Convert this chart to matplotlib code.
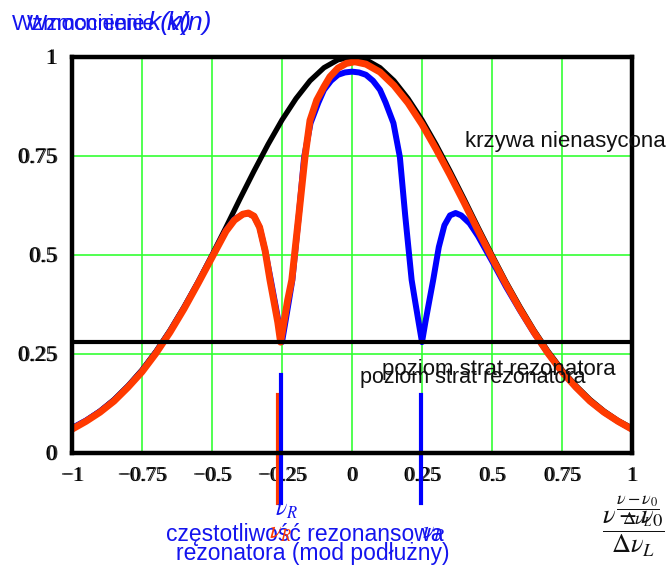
import matplotlib
matplotlib.use("Agg")
import matplotlib.pyplot as plt
import matplotlib.patheffects as pe

plt.rcParams['mathtext.fontset'] = 'stix'

W, H = 672, 567

# normalized detuning (nu - nu0) / delta nu_L
x_black = [-1.0, -0.95, -0.9, -0.85, -0.8, -0.75, -0.7, -0.65, -0.6, -0.55, -0.5,
           -0.45, -0.4, -0.35, -0.3, -0.25, -0.2, -0.15, -0.1, -0.05, 0.0,
           0.05, 0.1, 0.15, 0.2, 0.25, 0.3, 0.35, 0.4, 0.45, 0.5,
           0.55, 0.6, 0.65, 0.7, 0.75, 0.8, 0.85, 0.9, 0.95, 1.0]
y_black = [0.063, 0.082, 0.106, 0.135, 0.170, 0.210, 0.257, 0.310, 0.369, 0.432, 0.500,
           0.570, 0.642, 0.712, 0.779, 0.841, 0.895, 0.940, 0.973, 0.993, 1.000,
           0.993, 0.973, 0.940, 0.895, 0.841, 0.779, 0.712, 0.642, 0.570, 0.500,
           0.432, 0.369, 0.310, 0.257, 0.210, 0.170, 0.135, 0.106, 0.082, 0.063]

# single mode (hole at -nu_R)
x_red = [-1.0, -0.95, -0.9, -0.85, -0.8, -0.75, -0.7, -0.65, -0.6, -0.55, -0.5,
         -0.45, -0.42, -0.39, -0.37, -0.35, -0.33, -0.31, -0.293, -0.278, -0.265, -0.255,
         -0.243, -0.23, -0.215, -0.19, -0.168, -0.15, -0.126, -0.1, -0.079, -0.05, -0.02,
         0.01, 0.05, 0.1, 0.15, 0.2, 0.25, 0.3, 0.35, 0.4, 0.45, 0.5,
         0.55, 0.6, 0.65, 0.7, 0.75, 0.8, 0.85, 0.9, 0.95, 1.0]
y_red = [0.060, 0.080, 0.103, 0.131, 0.166, 0.205, 0.252, 0.305, 0.364, 0.428, 0.494,
         0.560, 0.588, 0.603, 0.606, 0.598, 0.570, 0.510, 0.437, 0.380, 0.330, 0.280,
         0.330, 0.385, 0.437, 0.600, 0.747, 0.840, 0.891, 0.925, 0.950, 0.972, 0.984,
         0.988, 0.982, 0.962, 0.928, 0.884, 0.830, 0.768, 0.702, 0.633, 0.562, 0.493,
         0.426, 0.363, 0.305, 0.252, 0.205, 0.166, 0.131, 0.103, 0.080, 0.060]

# two modes (holes at -nu_R and +nu_R)
x_blue = [-1.0, -0.95, -0.9, -0.85, -0.8, -0.75, -0.7, -0.65, -0.6, -0.55, -0.5,
          -0.45, -0.42, -0.39, -0.37, -0.35, -0.33, -0.31, -0.29, -0.275, -0.262, -0.25,
          -0.238, -0.225, -0.213, -0.19, -0.171, -0.148, -0.12, -0.1, -0.075, -0.05, -0.025,
          0.0, 0.025, 0.05, 0.075, 0.1, 0.12, 0.148, 0.171, 0.19, 0.213, 0.225, 0.238,
          0.25, 0.262, 0.275, 0.29, 0.31, 0.33, 0.35, 0.37, 0.39, 0.42, 0.45, 0.5,
          0.55, 0.6, 0.65, 0.7, 0.75, 0.8, 0.85, 0.9, 0.95, 1.0]
y_blue = [0.063, 0.082, 0.105, 0.133, 0.168, 0.207, 0.254, 0.307, 0.366, 0.430, 0.496,
          0.562, 0.590, 0.603, 0.605, 0.598, 0.570, 0.510, 0.437, 0.380, 0.330, 0.280,
          0.330, 0.385, 0.437, 0.600, 0.747, 0.833, 0.885, 0.917, 0.940, 0.955, 0.961,
          0.963, 0.961, 0.955, 0.940, 0.917, 0.885, 0.833, 0.747, 0.600, 0.437, 0.385, 0.330,
          0.280, 0.330, 0.380, 0.437, 0.520, 0.575, 0.600, 0.606, 0.600, 0.580, 0.548, 0.485,
          0.420, 0.360, 0.303, 0.252, 0.205, 0.166, 0.131, 0.103, 0.080, 0.060]

loss_level = 0.28
ticks = [-1, -0.75, -0.5, -0.25, 0, 0.25, 0.5, 0.75, 1]
tick_text = ["\u22121", "\u22120.75", "\u22120.5", "\u22120.25", "0", "0.25", "0.5", "0.75", "1"]
yticks = [0, 0.25, 0.5, 0.75, 1]
ytick_text = ["0", "0.25", "0.5", "0.75", "1"]

# resonator mode markers: (x, top, bottom, colour)
markers = [(-0.264, 0.146, -0.126, '#ff3a00'),
           (-0.254, 0.197, -0.126, '#0000ff'),
           (0.246, 0.146, -0.126, '#0000ff')]


def fx(px):
    return px / W


def fy(py):
    return 1 - py / H


fig = plt.figure(figsize=(W / 100, H / 100), dpi=100)
ax = fig.add_axes([fx(72), fy(453), 560 / W, 396 / H])

ax.set_xlim(-1, 1)
ax.set_ylim(0, 1)
ax.set_xticks(ticks)
ax.set_xticklabels(tick_text)
ax.set_yticks(yticks)
ax.set_yticklabels(ytick_text)
ax.tick_params(length=0, pad=10)
ax.tick_params(axis='x', labelsize=15)
ax.tick_params(axis='y', labelsize=16, pad=11)
ax.grid(True, color='#33ff33', lw=1.2)
ax.set_axisbelow(True)
for s in ax.spines.values():
    s.set_linewidth(3.2)

shadow = [pe.withSimplePatchShadow(offset=(1.1, 0), shadow_rgbFace='black', alpha=0.8)]
for lbl in ax.get_xticklabels() + ax.get_yticklabels():
    lbl.set_fontfamily('Liberation Serif')
    lbl.set_path_effects(shadow)

ax.plot(x_black, y_black, color='black', lw=3.8, solid_joinstyle='round')
ax.plot(x_blue, y_blue, color='#0000ff', lw=4.3, solid_joinstyle='round')
ax.plot(x_red, y_red, color='#ff3a00', lw=5.0, solid_joinstyle='round')
ax.axhline(loss_level, color='black', lw=3.0)

for mx, top, bot, col in markers:
    ax.plot([mx, mx], [bot, top], color=col, lw=3.0, clip_on=False)

sans = 'Liberation Sans'
blue = '#1414ee'

# doubled title, as in the original
fig.text(fx(12), fy(30), "Wzmocnienie", family=sans, fontsize=16, color=blue)
fig.text(fx(27), fy(30), "Wzmocnienie", family=sans, fontsize=15.5, color=blue)
fig.text(fx(148), fy(30), "k(\u03bd)", family=sans, style='italic', fontsize=19, color=blue)
fig.text(fx(167), fy(30), "k(n)", family=sans, style='italic', fontsize=19, color=blue)

fig.text(fx(465), fy(147), "krzywa nienasycona", family=sans, fontsize=16, color='#111111')
fig.text(fx(382), fy(375), "poziom strat rezonatora", family=sans, fontsize=16, color='#111111')
fig.text(fx(360), fy(383), "poziom strat rezonatora", family=sans, fontsize=15.5, color='#111111')

fig.text(fx(166), fy(541), "częstotliwość rezonansowa", family=sans, fontsize=16.5, color=blue)
fig.text(fx(176), fy(560), "rezonatora (mod podłużny)", family=sans, fontsize=16.5, color=blue)

fig.text(fx(286), fy(509), r"$\nu_R$", fontsize=17, color=blue, ha='center', va='center')
fig.text(fx(280), fy(532), r"$\nu_R$", fontsize=17, color='#ff3a00', ha='center', va='center')
fig.text(fx(433), fy(532), r"$\nu_R$", fontsize=17, color=blue, ha='center', va='center')

fig.text(fx(638), fy(511), r"$\dfrac{\nu-\nu_0}{\Delta\nu_L}$", fontsize=13, color='#111111',
         ha='center', va='center')
fig.text(fx(633), fy(534), r"$\dfrac{\nu-\nu_0}{\Delta\nu_L}$", fontsize=19, color='#111111',
         ha='center', va='center')

fig.savefig("out.png", dpi=100)
